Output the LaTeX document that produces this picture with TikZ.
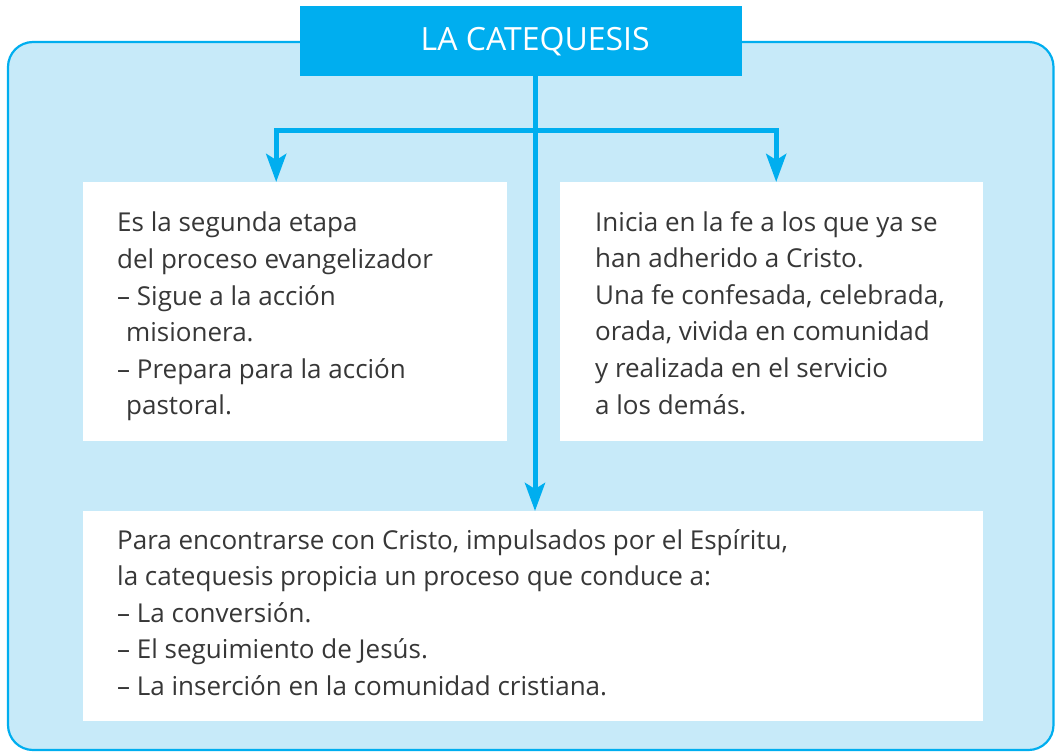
\documentclass[tikz,border=0pt]{standalone}
\usepackage{fontspec}
\setmainfont{Open Sans}
\usetikzlibrary{arrows.meta}
\definecolor{cian}{RGB}{0,174,239}
\definecolor{celeste}{RGB}{199,234,249}
\definecolor{gristexto}{RGB}{55,55,55}
\tikzset{
  caja/.style={fill=white, anchor=north west, inner sep=0pt},
  texto/.style={anchor=north west, inner sep=0pt, align=left, text=gristexto,
    font=\fontsize{26}{36.6}\selectfont},
  flecha/.style={draw=cian, line width=5pt, -{Stealth[length=28pt,width=20pt,inset=6pt]}}
}
\begin{document}
\begin{tikzpicture}[x=1pt,y=-1pt]
\useasboundingbox (0,0) rectangle (1055,752);
% fondo
\draw[cian, line width=2.2pt, fill=celeste, rounded corners=25pt] (8,42) rectangle (1053.5,750);
% titulo
\node[fill=cian, text=white, anchor=north west, inner sep=0pt, minimum width=442pt, minimum height=70pt,
  font=\fontsize{32}{32}\selectfont] (titulo) at (300,6) {\hspace*{28pt}\raisebox{2pt}{LA CATEQUESIS}};
% cajas
\node[caja, minimum width=424pt, minimum height=259pt] (izq) at (83,182) {};
\node[caja, minimum width=423pt, minimum height=259pt] (der) at (560,182) {};
\node[caja, minimum width=900pt, minimum height=210pt] (abajo) at (83,511) {};
% flechas
\coordinate (tronco) at (535,130);
\draw[flecha] (tronco) -| ([xshift=-19pt]izq.north);
\draw[flecha] (tronco) -| ([xshift=4.5pt]der.north);
\draw[flecha] (titulo.south -| tronco) -- (tronco |- abajo.north);
% textos
\node[texto] (txtizq) at ([shift={(34,30)}]izq.north west) {Es la segunda etapa\\
del proceso evangelizador\\
– Sigue a la acción\\
\hspace*{9pt}misionera.\\
– Prepara para la acción\\
\hspace*{9pt}pastoral.};
\node[texto] (txtder) at ([shift={(35,29)}]der.north west) {Inicia en la fe a los que ya se\\
han adherido a Cristo.\\
Una fe confesada, celebrada,\\
orada, vivida en comunidad\\
y realizada en el servicio\\
a los demás.};
\node[texto] (txtabajo) at ([shift={(34,18)}]abajo.north west) {Para encontrarse con Cristo, impulsados por el Espíritu,\\
la catequesis propicia un proceso que conduce a:\\
– La conversión.\\
– El seguimiento de Jesús.\\
– La inserción en la comunidad cristiana.};
\end{tikzpicture}
\end{document}
